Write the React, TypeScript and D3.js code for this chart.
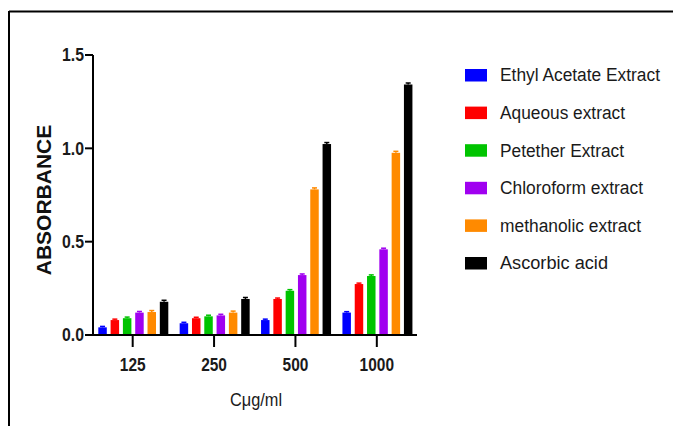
import React from "react";
import * as d3 from "d3";

const categories = ["125", "250", "500", "1000"];
const seriesNames = [
  "Ethyl Acetate Extract",
  "Aqueous extract",
  "Petether Extract",
  "Chloroform extract",
  "methanolic extract",
  "Ascorbic acid",
];
const seriesColors = ["#0000FF", "#FF0000", "#00C400", "#A000F0", "#FF8A00", "#000000"];
const ethylAcetate = [0.041, 0.063, 0.08, 0.12];
const aqueous = [0.08, 0.09, 0.193, 0.273];
const petether = [0.09, 0.1, 0.237, 0.316];
const chloroform = [0.12, 0.105, 0.321, 0.459];
const methanolic = [0.123, 0.12, 0.78, 0.976];
const ascorbic = [0.178, 0.193, 1.023, 1.342];
const errors = [0.005, 0.005, 0.006, 0.006, 0.008, 0.008];
const yTicks = [0, 0.5, 1.0, 1.5];
const legendWidths = [160, 125, 124, 143, 141, 108];

export default function App() {
  const values = [ethylAcetate, aqueous, petether, chloroform, methanolic, ascorbic];
  const x0 = d3.scaleBand<string>().domain(categories).range([92, 417.5]).padding(0);
  const x1 = d3
    .scaleBand<number>()
    .domain(d3.range(seriesNames.length))
    .range([6.3, 76.3])
    .paddingInner(0.31)
    .paddingOuter(0);
  const y = d3.scaleLinear().domain([0, 1.5]).range([335, 55]);
  const font = "'Liberation Sans', Arial, Helvetica, sans-serif";

  return (
    <svg
      width={673}
      height={426}
      style={{ position: "absolute", left: 0, top: 0, background: "#fff" }}
      fontFamily={font}
    >
      <rect x={0} y={0} width={673} height={426} fill="#fff" />
      <line x1={9} x2={673} y1={11.5} y2={11.5} stroke="#000" strokeWidth={2} />
      <line x1={9} x2={9} y1={11} y2={426} stroke="#000" strokeWidth={2} />

      {/* bars */}
      {categories.map((c, ci) => (
        <g key={c} transform={`translate(${x0(c)},0)`}>
          {values.map((vals, si) => {
            const v = vals[ci];
            const bx = x1(si)!;
            const bw = x1.bandwidth();
            const cx = bx + bw / 2;
            const e = errors[si];
            return (
              <g key={si}>
                <rect x={bx} y={y(v)} width={bw} height={y(0) - y(v)} fill={seriesColors[si]} />
                <line x1={cx} x2={cx} y1={y(v + e)} y2={y(v)} stroke={seriesColors[si]} strokeWidth={1.5} />
                <line x1={cx - 2.5} x2={cx + 2.5} y1={y(v + e)} y2={y(v + e)} stroke={seriesColors[si]} strokeWidth={1.5} />
              </g>
            );
          })}
        </g>
      ))}

      {/* y axis */}
      <line x1={93} x2={93} y1={y(1.5)} y2={y(0) + 1} stroke="#000" strokeWidth={2} />
      {yTicks.map((t) => (
        <g key={t}>
          <line x1={85} x2={93} y1={y(t)} y2={y(t)} stroke="#000" strokeWidth={2} />
          <text
            x={84}
            y={y(t)}
            dy="0.36em"
            textAnchor="end"
            fontSize={17.5}
            fontWeight="bold"
            fill="#1a1a1a"
            textLength={22}
            lengthAdjust="spacingAndGlyphs"
          >
            {t.toFixed(1)}
          </text>
        </g>
      ))}
      <text
        transform={`translate(51,200) rotate(-90)`}
        textAnchor="middle"
        fontSize={21}
        fontWeight="bold"
        fill="#111"
      >
        ABSORBANCE
      </text>

      {/* x axis */}
      <line x1={92} x2={417} y1={y(0)} y2={y(0)} stroke="#000" strokeWidth={2} />
      {categories.map((c) => {
        const cx = x0(c)! + x0.bandwidth() / 2;
        return (
          <g key={c}>
            <line x1={cx} x2={cx} y1={y(0)} y2={y(0) + 12} stroke="#000" strokeWidth={2} />
            <text
              x={cx}
              y={371}
              textAnchor="middle"
              fontSize={17.5}
              fontWeight="bold"
              fill="#1a1a1a"
              textLength={c.length * 8.6}
              lengthAdjust="spacingAndGlyphs"
            >
              {c}
            </text>
          </g>
        );
      })}
      <text x={256} y={406} textAnchor="middle" fontSize={17.5} fill="#1a1a1a" textLength={52} lengthAdjust="spacingAndGlyphs">
        Cμg/ml
      </text>

      {/* legend */}
      {seriesNames.map((n, i) => {
        const cy = 75 + i * 37.6;
        return (
          <g key={n}>
            <rect x={465} y={cy - 6} width={22} height={12.5} fill={seriesColors[i]} />
            <text
              x={500}
              y={cy}
              dy="0.36em"
              fontSize={18}
              fill="#1a1a1a"
              textLength={legendWidths[i]}
              lengthAdjust="spacingAndGlyphs"
            >
              {n}
            </text>
          </g>
        );
      })}
    </svg>
  );
}
